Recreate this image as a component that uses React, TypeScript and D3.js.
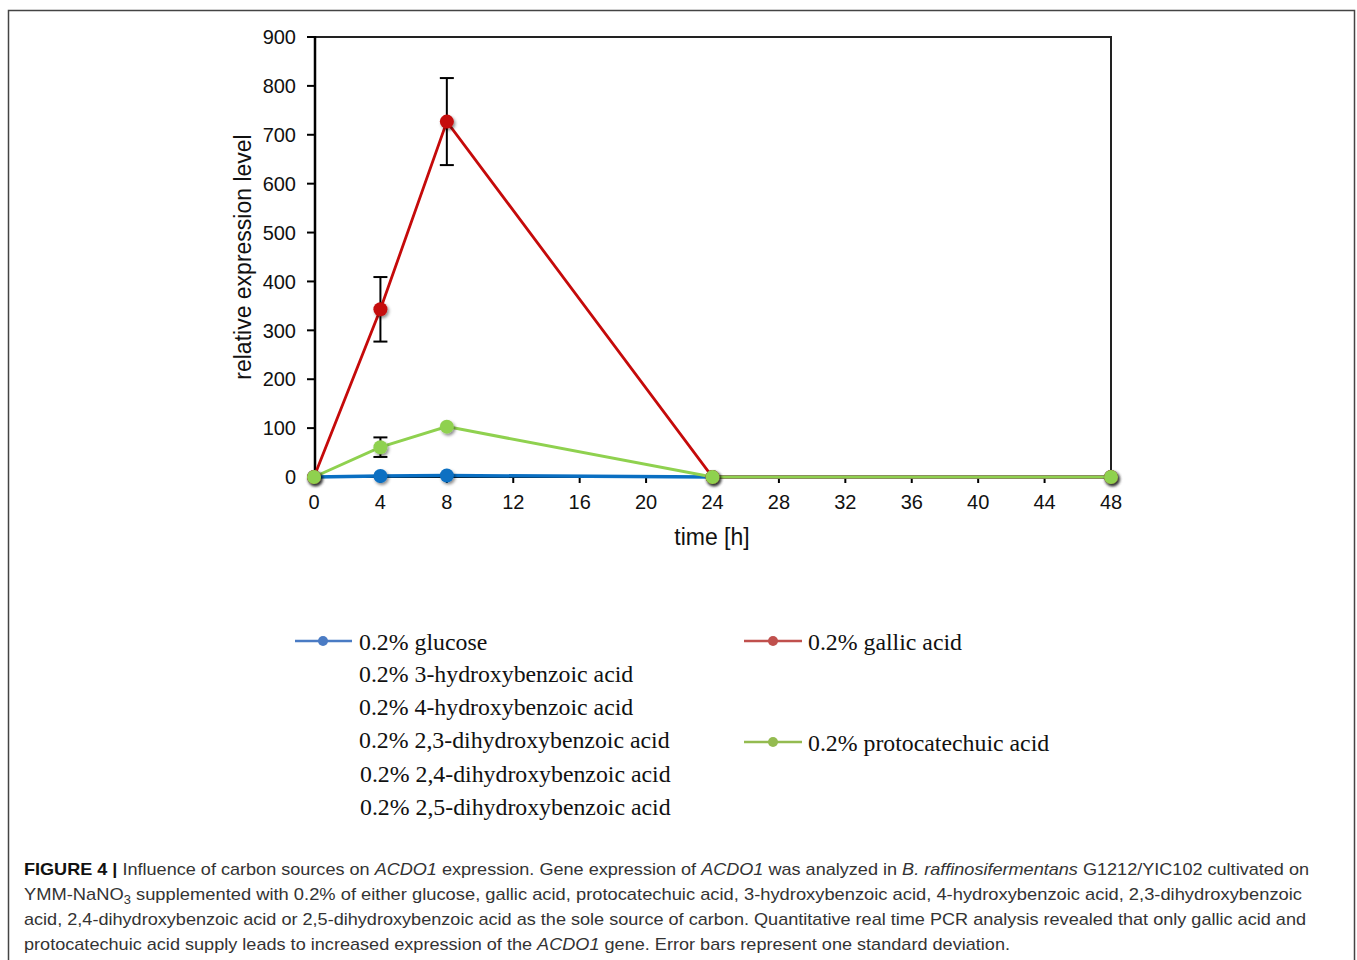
import React from "react"
import * as d3 from "d3"

// time points (h) and measured values
const times = [0, 4, 8, 24, 48]
const glucose = [0, 2, 3, 0, 0]
const gallic = [0, 343, 727, 0, 0]
const gallicErr = [0, 66, 89, 0, 0]
const protocatechuic = [0, 61, 103, 0, 0]
const protoErr = [0, 20, 0, 0, 0]

const xTicks = [0, 4, 8, 12, 16, 20, 24, 28, 32, 36, 40, 44, 48]
const yTicks = [0, 100, 200, 300, 400, 500, 600, 700, 800, 900]

const legendLeft = [
    "0.2% glucose",
    "0.2% 3-hydroxybenzoic acid",
    "0.2% 4-hydroxybenzoic acid",
    "0.2% 2,3-dihydroxybenzoic acid",
    "0.2% 2,4-dihydroxybenzoic acid",
    "0.2% 2,5-dihydroxybenzoic acid",
]

type Series = { name: string, values: number[], err: number[], color: string, legendColor: string, lw: number }

const series: Series[] = [
    { name: "glucose", values: glucose, err: [0, 0, 0, 0, 0], color: "#0a6fc2", legendColor: "#4a7bc4", lw: 3.5 },
    { name: "gallic", values: gallic, err: gallicErr, color: "#c50a0a", legendColor: "#c0504d", lw: 2.8 },
    { name: "proto", values: protocatechuic, err: protoErr, color: "#8fd14f", legendColor: "#94bb50", lw: 3 },
]

function App() {
    const width = 1357
    const height = 960
    const left = 314, right = 1111, top = 37, bottom = 477

    const x = d3.scaleLinear().domain([0, 48]).range([left, right])
    const y = d3.scaleLinear().domain([0, 900]).range([bottom, top])

    const line = d3.line<number>()
        .x((_, i) => x(times[i]))
        .y((d) => y(d))

    const axisFont = "Arial, 'Liberation Sans', Helvetica, sans-serif"
    const serif = "'Times New Roman', 'Liberation Serif', serif"
    const capFont = "'Liberation Sans', Arial, Helvetica, sans-serif"

    return (
        <svg width={width} height={height} style={{ position: "absolute", left: 0, top: 0, background: "#fff" }}>
            <defs>
                <filter id="shadow" x="-50%" y="-50%" width="200%" height="200%">
                    <feDropShadow dx="1.5" dy="2" stdDeviation="1.6" floodColor="#000" floodOpacity="0.45" />
                </filter>
            </defs>
            <rect x={0} y={0} width={width} height={height} fill="#fff" />
            {/* outer figure frame */}
            <rect x={8.5} y={10.5} width={1346} height={970} fill="none" stroke="#444" strokeWidth={1.5} />

            {/* plot frame top/right */}
            <path d={`M${left},${top}H${right}V${bottom}`} fill="none" stroke="#222" strokeWidth={2} />

            {/* y axis */}
            <line x1={left + 1} x2={left + 1} y1={top - 1} y2={bottom} stroke="#000" strokeWidth={2.5} />
            {yTicks.map((t) => (
                <g key={t}>
                    <line x1={left - 7} x2={left} y1={y(t)} y2={y(t)} stroke="#000" strokeWidth={2} />
                    <text x={296} y={y(t)} dy="0.36em" textAnchor="end" fontFamily={axisFont} fontSize={20} fill="#111">{t}</text>
                </g>
            ))}

            {/* x axis */}
            <line x1={left} x2={right} y1={bottom} y2={bottom} stroke="#000" strokeWidth={2} />
            {xTicks.map((t) => (
                <g key={t}>
                    <line x1={x(t)} x2={x(t)} y1={bottom} y2={bottom + 6} stroke="#000" strokeWidth={2} />
                    <text x={x(t)} y={502} dy="0.36em" textAnchor="middle" fontFamily={axisFont} fontSize={20} fill="#111">{t}</text>
                </g>
            ))}

            <text x={712} y={537} dy="0.36em" textAnchor="middle" fontFamily={axisFont} fontSize={23} fill="#111">time [h]</text>
            <text transform="translate(243,257) rotate(-90)" dy="0.36em" textAnchor="middle" fontFamily={axisFont} fontSize={23} fill="#111">relative expression level</text>

            {/* series lines */}
            {series.map((s) => (
                <path key={s.name} d={line(s.values) || ""} fill="none" stroke={s.color} strokeWidth={s.lw} />
            ))}

            {/* error bars */}
            {series.map((s) => s.err.map((e, i) => e > 0 ? (
                <g key={s.name + i} stroke="#000" strokeWidth={2}>
                    <line x1={x(times[i])} x2={x(times[i])} y1={y(s.values[i] + e)} y2={y(s.values[i] - e)} />
                    <line x1={x(times[i]) - 7} x2={x(times[i]) + 7} y1={y(s.values[i] + e)} y2={y(s.values[i] + e)} />
                    <line x1={x(times[i]) - 7} x2={x(times[i]) + 7} y1={y(s.values[i] - e)} y2={y(s.values[i] - e)} />
                </g>
            ) : null))}

            {/* markers */}
            {series.map((s) => s.values.map((v, i) => (
                <circle key={s.name + "m" + i} cx={x(times[i])} cy={y(v)} r={7} fill={s.color} filter="url(#shadow)" />
            )))}

            {/* legend */}
            <g fontFamily={serif} fontSize={23.8} fill="#111">
                <line x1={295} x2={352} y1={641} y2={641} stroke={series[0].legendColor} strokeWidth={2.5} />
                <circle cx={323} cy={641} r={5} fill={series[0].legendColor} />
                {legendLeft.map((t, i) => (
                    <text key={t} x={i >= 4 ? 360 : 359} y={[642, 674, 707, 740, 774, 807][i]} dy="0.33em">{t}</text>
                ))}
                <line x1={744} x2={802} y1={641} y2={641} stroke={series[1].legendColor} strokeWidth={2.5} />
                <circle cx={773} cy={641} r={5} fill={series[1].legendColor} />
                <text x={808} y={642} dy="0.33em">0.2% gallic acid</text>
                <line x1={744} x2={802} y1={742} y2={742} stroke={series[2].legendColor} strokeWidth={2.5} />
                <circle cx={773} cy={742} r={5} fill={series[2].legendColor} />
                <text x={808} y={743} dy="0.33em">0.2% protocatechuic acid</text>
            </g>

            {/* caption */}
            <g fontFamily={capFont} fontSize={17} fill="#333">
                <text x={24} y={875} textLength={1285} lengthAdjust="spacingAndGlyphs">
                    <tspan fontWeight="bold" fill="#111">FIGURE 4 |</tspan> Influence of carbon sources on <tspan fontStyle="italic">ACDO1</tspan> expression. Gene expression of <tspan fontStyle="italic">ACDO1</tspan> was analyzed in <tspan fontStyle="italic">B. raffinosifermentans</tspan> G1212/YIC102 cultivated on
                </text>
                <text x={24} y={900} textLength={1278} lengthAdjust="spacingAndGlyphs">
                    YMM-NaNO<tspan fontSize={12} dy={4}>3</tspan><tspan dy={-4}> supplemented with 0.2% of either glucose, gallic acid, protocatechuic acid, 3-hydroxybenzoic acid, 4-hydroxybenzoic acid, 2,3-dihydroxybenzoic</tspan>
                </text>
                <text x={24} y={925} textLength={1282} lengthAdjust="spacingAndGlyphs">
                    acid, 2,4-dihydroxybenzoic acid or 2,5-dihydroxybenzoic acid as the sole source of carbon. Quantitative real time PCR analysis revealed that only gallic acid and
                </text>
                <text x={24} y={950} textLength={986} lengthAdjust="spacingAndGlyphs">
                    protocatechuic acid supply leads to increased expression of the <tspan fontStyle="italic">ACDO1</tspan> gene. Error bars represent one standard deviation.
                </text>
            </g>
        </svg>
    )
}

export default App
